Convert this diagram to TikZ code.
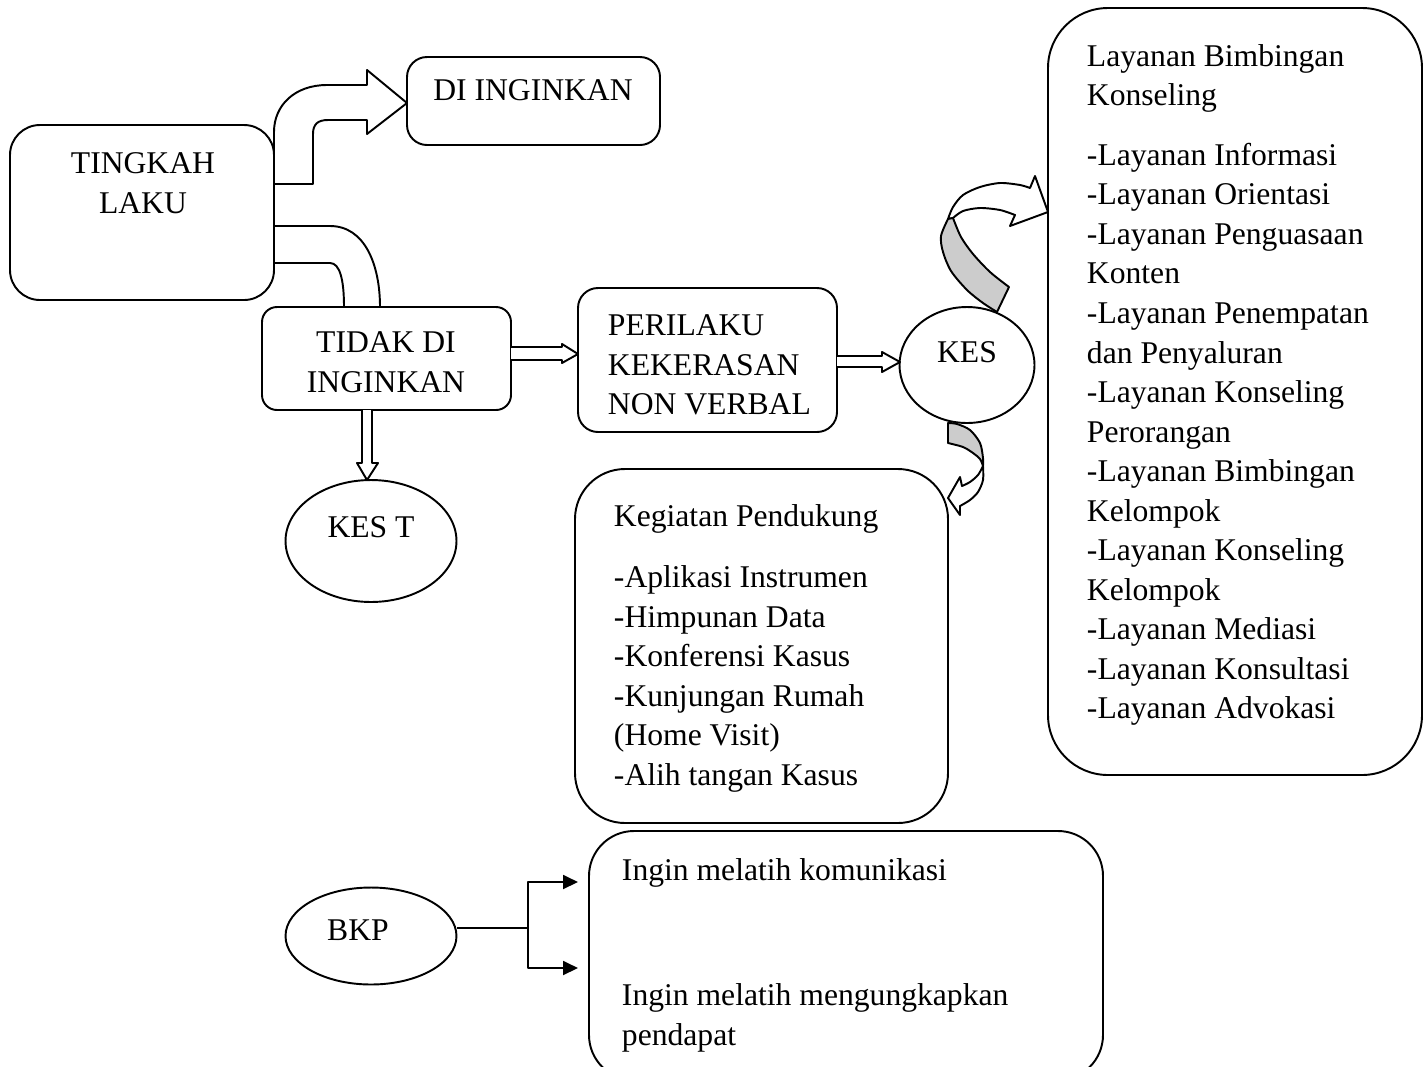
\documentclass[tikz,border=0pt]{standalone}
\usepackage{fontspec}
\setmainfont{Liberation Serif}
\usetikzlibrary{shapes.geometric,fit,arrows.meta}
\definecolor{bandgray}{RGB}{204,204,204}
\begin{document}
\begin{tikzpicture}[x=0.02cm,y=-0.02cm, line width=1.1pt, line join=round,
  box/.style={draw, rectangle, inner sep=0pt},
  oval/.style={draw, ellipse, inner sep=0pt},
  txt/.style={inner sep=0pt, font=\fontsize{18}{22.5}\selectfont},
  blockarrow/.style={draw, fill=white},
  bandshape/.style={draw, fill=bandgray},
  tip/.style={-{Triangle[length=0.3cm,width=0.28cm]}}
  ]
\useasboundingbox (0,0) rectangle (1427,1066);
\clip (0,0) rectangle (1427,1066);

% boxes
\node[box, rounded corners=0.6cm, fit={(10,125)(274,300)}] (tl) {};
\node[box, rounded corners=0.4cm, fit={(407,57)(660,145)}] (di) {};
\node[box, rounded corners=0.3cm, fit={(262,307)(511,410)}] (tidak) {};
\node[box, rounded corners=0.4cm, fit={(578,288)(837,432)}] (peri) {};
\node[box, rounded corners=1.2cm, fit={(1048,8)(1422,775)}] (lay) {};
\node[box, rounded corners=1.0cm, fit={(575,469)(948,823)}] (keg) {};
\node[box, rounded corners=0.9cm, fit={(589,831)(1103,1080)}] (ingin) {};

% ellipses
\node[oval, minimum width=2.70cm, minimum height=2.32cm] (kes) at (967,365) {};
\node[oval, minimum width=3.42cm, minimum height=2.44cm] (kest) at (371,541) {};
\node[oval, minimum width=3.42cm, minimum height=1.94cm] (bkp) at (371,936) {};

% texts
\node[txt, anchor=north, align=center] (tltxt) at (143,152) {TINGKAH\\LAKU};
\node[txt, anchor=base] (ditxt) at (533,100) {DI INGINKAN};
\node[txt, anchor=north, align=center] (tidaktxt) at (386,331) {TIDAK DI\\INGINKAN};
\node[txt, anchor=north west, align=left] (peritxt) at (607,314) {PERILAKU\\KEKERASAN\\NON VERBAL};
\node[txt, anchor=base] (kestxt) at (967,362) {KES};
\node[txt, anchor=base] (kesttxt) at (371,537) {KES T};
\node[txt, anchor=base] (bkptxt) at (358,940) {BKP};
\node[txt, anchor=north west, align=left] (laytxt) at (1086,43.4) {Layanan Bimbingan\\Konseling\\[0.4cm]
-Layanan Informasi\\-Layanan Orientasi\\-Layanan Penguasaan\\Konten\\-Layanan Penempatan\\dan Penyaluran\\
-Layanan Konseling\\Perorangan\\-Layanan Bimbingan\\Kelompok\\-Layanan Konseling\\Kelompok\\
-Layanan Mediasi\\-Layanan Konsultasi\\-Layanan Advokasi};
\node[txt, anchor=north west, align=left] (kegtxt) at (613,503.4) {Kegiatan Pendukung\\[0.44cm]
-Aplikasi Instrumen\\-Himpunan Data\\-Konferensi Kasus\\-Kunjungan Rumah\\(Home Visit)\\-Alih tangan Kasus};
\node[txt, anchor=base west] (ingin1) at (621,880) {Ingin melatih komunikasi};
\node[txt, anchor=north west, align=left] (ingin2) at (621,983) {Ingin melatih mengungkapkan\\pendapat};

% curved block arrow TINGKAH LAKU -> DI INGINKAN
\draw[blockarrow] (274,184) -- (313,184) -- (313,134)
  .. controls (313,124) and (318,120) .. (328,120) -- (367,120) -- (367,134)
  -- (407,103) -- (367,70) -- (367,85) -- (327,85)
  .. controls (295,85) and (274,105) .. (274,132) -- cycle;
% curved band TINGKAH LAKU -> TIDAK DI INGINKAN
\draw (274,226) -- (330,226) .. controls (365,226) and (380,265) .. (380,307);
\draw (274,263) -- (330,263) .. controls (340,263) and (344,280) .. (344,307);

% straight block arrows
\draw[blockarrow] (511,347) -- (562,347) -- (562,344) -- (578,354) -- (562,363) -- (562,360) -- (511,360);
\draw[blockarrow] (837,356) -- (882,356) -- (882,352) -- (900,362) -- (882,372) -- (882,367) -- (837,367);
\draw[blockarrow] (362,410) -- (362,463) -- (357,463) -- (367,480) -- (378,463) -- (372,463) -- (372,410);

% curved arrow KES -> Layanan
\draw[blockarrow] plot[smooth] coordinates {(948,219)(953,207)(963,195)(980,187)(1000,183)(1020,185)(1030,188)}
  -- (1035,176) -- (1048,212) -- (1010,226) -- (1015,215)
  -- plot[smooth] coordinates {(1015,215)(1000,210)(980,208)(963,211)(953,218)} -- cycle;
\draw[bandshape] plot[smooth] coordinates {(948,219)(941,236)(943,252)(951,271)(967,290)(983,303)(997,312)}
  -- (1009,287)
  -- plot[smooth] coordinates {(1009,287)(990,272)(973,254)(961,237)(953,218)} -- cycle;

% curved arrow KES -> Kegiatan
\draw[bandshape] (948,423) -- plot[smooth] coordinates {(948,423)(957,424)(970,430)(980,443)(983,458)(983,466)}
  -- plot[smooth] coordinates {(983,466)(980,459)(973,453)(963,447)(948,443)} -- cycle;
\draw[blockarrow] plot[smooth] coordinates {(983,466)(983,480)(978,492)(970,500)(960,506)}
  -- (960,515) -- (948,498) -- (960,477) -- (962,486)
  -- plot[smooth] coordinates {(962,486)(970,482)(978,475)(983,466)};

% BKP connectors
\coordinate (j) at (528,928);
\coordinate (t1) at (578,882);
\coordinate (t2) at (578,968);
\draw (bkp.east |- j) -- (j);
\draw[tip] (j) |- (t1);
\draw[tip] (j) |- (t2);
\end{tikzpicture}
\end{document}
